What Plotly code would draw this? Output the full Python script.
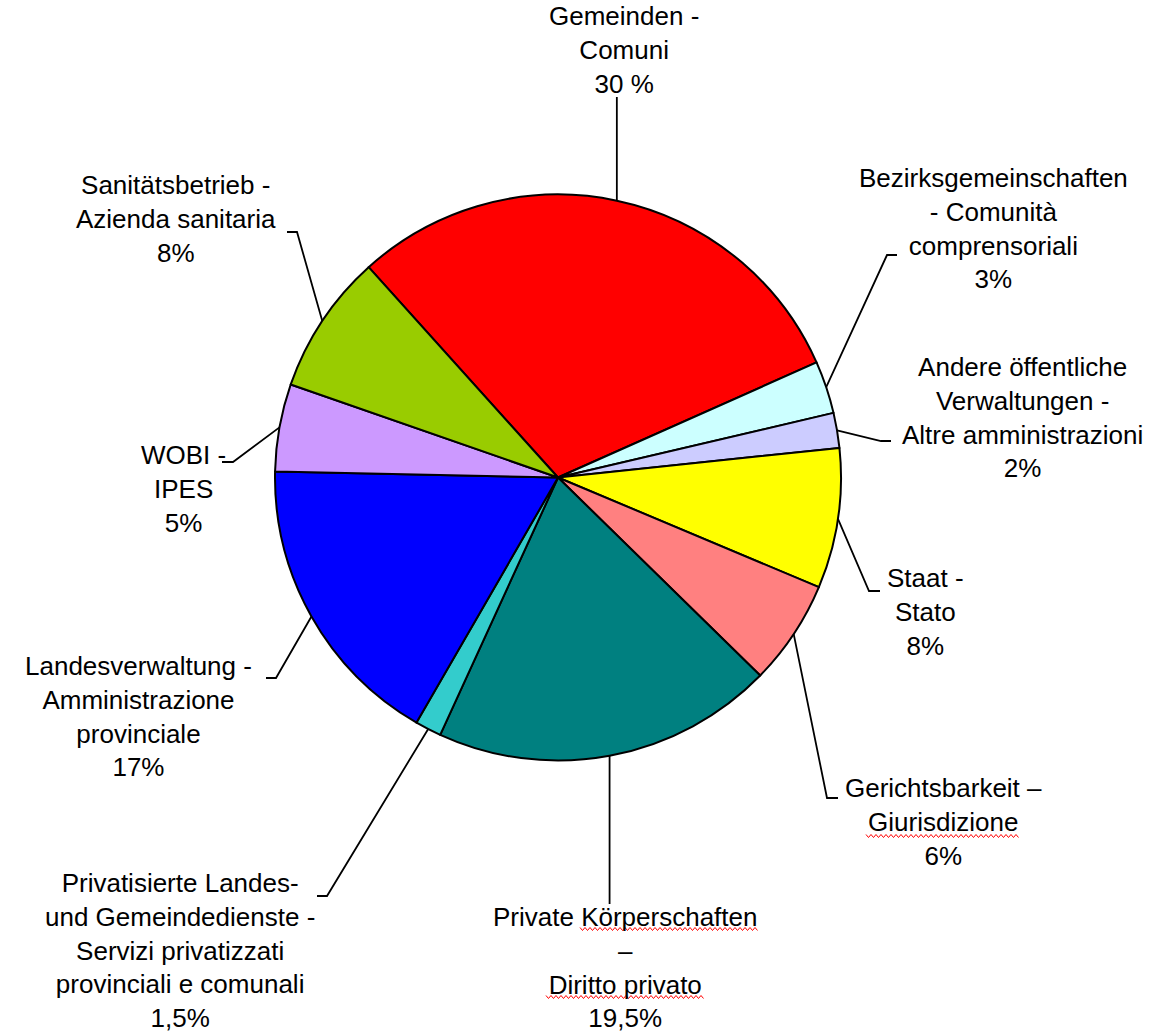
import math
import plotly.graph_objects as go

# ---------------- data ----------------
categories = [
    "Gemeinden - Comuni",
    "Bezirksgemeinschaften - Comunità comprensoriali",
    "Andere öffentliche Verwaltungen - Altre amministrazioni",
    "Staat - Stato",
    "Gerichtsbarkeit – Giurisdizione",
    "Private Körperschaften – Diritto privato",
    "Privatisierte Landes- und Gemeindedienste - Servizi privatizzati provinciali e comunali",
    "Landesverwaltung - Amministrazione provinciale",
    "WOBI - IPES",
    "Sanitätsbetrieb - Azienda sanitaria",
]
values = [30, 3, 2, 8, 6, 19.5, 1.5, 17, 5, 8]
label_lines = [
    ["Gemeinden -", "Comuni"],
    ["Bezirksgemeinschaften", "- Comunità", "comprensoriali"],
    ["Andere öffentliche", "Verwaltungen -", "Altre amministrazioni"],
    ["Staat -", "Stato"],
    ["Gerichtsbarkeit –", "Giurisdizione"],
    ["Private Körperschaften", "–", "Diritto privato"],
    ["Privatisierte Landes-", "und Gemeindedienste -", "Servizi privatizzati", "provinciali e comunali"],
    ["Landesverwaltung -", "Amministrazione", "provinciale"],
    ["WOBI -", "IPES"],
    ["Sanitätsbetrieb -", "Azienda sanitaria"],
]
pct_labels = ["30 %", "3%", "2%", "8%", "6%", "19,5%", "1,5%", "17%", "5%", "8%"]
colors = ["#FF0000", "#CCFFFF", "#CCCCFF", "#FFFF00", "#FF8080",
          "#008080", "#33CCCC", "#0000FF", "#CC99FF", "#99CC00"]

# ---------------- layout constants (pixels) ----------------
W, H = 1157, 1036
CX, CY, R = 558, 477.5, 283
ROT = -42
FONT = "Liberation Sans, Arial, sans-serif"
FSIZE = 26

# (text centre x, text centre y, elbow x (None = straight from edge), elbow y, tail end x)
label_layout = [
    (624, 50, None, 97, None),
    (993, 229, 887, 255, 897),
    (1022, 417, 881, 441, 891),
    (925, 612, 869, 591, 880),
    (943, 822, 827, 798, 838),
    (625, 967, None, 904, None),
    (180, 950, 327, 896, 317),
    (138, 716, 276, 678, 266),
    (183, 489, 233, 462, 222),
    (176, 219, 297, 232, 287),
]

# red spell-check squiggles under words (x0, x1, y) in pixels
squiggles = [
    (580, 759, 929),
    (546, 705, 997),
    (866, 1020, 836),
]


def px(x):
    return x / W


def py(y):
    return 1 - y / H


fig = go.Figure(go.Pie(
    labels=categories,
    values=values,
    sort=False,
    direction="clockwise",
    rotation=ROT,
    marker=dict(colors=colors, line=dict(color="black", width=2)),
    textinfo="none",
    hoverinfo="label+percent",
    showlegend=False,
    domain=dict(x=[px(CX - R), px(CX + R)], y=[py(CY + R), py(CY - R)]),
))

total = sum(values)
cum = 0.0
shapes = []
annotations = []
for i, v in enumerate(values):
    mid = math.radians(ROT + 360.0 * (cum + v / 2.0) / total)
    cum += v
    sx = CX + R * math.sin(mid)
    sy = CY - R * math.cos(mid)
    tx, ty, ex, ey, tail = label_layout[i]
    if ex is None:
        ex = sx
    pts = [(sx, sy), (ex, ey)]
    if tail is not None:
        pts.append((tail, ey))
    path = "M " + " L ".join(f"{px(a):.5f},{py(b):.5f}" for a, b in pts)
    shapes.append(dict(type="path", path=path, xref="paper", yref="paper",
                       line=dict(color="black", width=1.8)))
    text = "<br>".join(label_lines[i] + [pct_labels[i]])
    annotations.append(dict(
        text=text, x=px(tx), y=py(ty), xref="paper", yref="paper",
        xanchor="center", yanchor="middle", align="center", showarrow=False,
        font=dict(family=FONT, size=FSIZE, color="black"),
    ))

for x0, x1, y in squiggles:
    pts = []
    x = x0
    k = 0
    while x <= x1:
        pts.append((x, y + (1.5 if k % 2 else -1.5)))
        x += 2.5
        k += 1
    path = "M " + " L ".join(f"{px(a):.5f},{py(b):.5f}" for a, b in pts)
    shapes.append(dict(type="path", path=path, xref="paper", yref="paper",
                       line=dict(color="#FF0000", width=1)))

fig.update_layout(
    width=W, height=H,
    margin=dict(l=0, r=0, t=0, b=0),
    paper_bgcolor="white",
    plot_bgcolor="white",
    shapes=shapes,
    annotations=annotations,
)

fig.write_html("out.html", config={"displayModeBar": False},
               post_script="document.body.style.margin='0';")
